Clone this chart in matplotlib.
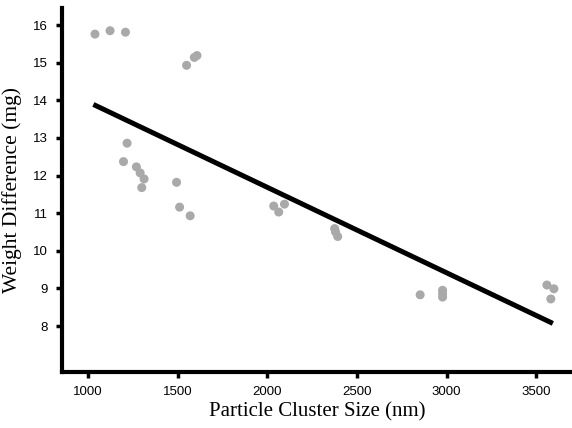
import matplotlib
matplotlib.use("Agg")
import matplotlib.pyplot as plt

# Data
cluster_size = [1039, 1123, 1209, 1550, 1593, 1608, 1218, 1198, 1270, 1291, 1313, 1300,
                1494, 1511, 1570, 2036, 2064, 2096, 2376, 2381, 2393, 2853, 2978, 2978,
                2978, 3560, 3599, 3582]
weight_diff = [15.76, 15.85, 15.81, 14.93, 15.14, 15.19, 12.86, 12.37, 12.23, 12.07, 11.91, 11.68,
               11.82, 11.16, 10.93, 11.19, 11.03, 11.24, 10.59, 10.50, 10.38, 8.83, 8.95, 8.86,
               8.77, 9.09, 8.99, 8.72]
fit_x = [1030, 3593]
fit_y = [13.89, 8.07]
x_ticks = [1000, 1500, 2000, 2500, 3000, 3500]
y_ticks = [8, 9, 10, 11, 12, 13, 14, 15, 16]

fig = plt.figure(figsize=(5.72, 4.28), dpi=100)
ax = fig.add_axes([0.1084, 0.131, 0.8916, 0.85])

ax.scatter(cluster_size, weight_diff, s=42, color="#a9a9a9", edgecolors="none", zorder=2)
ax.plot(fit_x, fit_y, color="black", linewidth=3.6, solid_capstyle="butt", zorder=3)

ax.set_xlim(855, 3700)
ax.set_ylim(6.78, 16.45)
ax.set_xticks(x_ticks)
ax.set_yticks(y_ticks)
ax.set_xticklabels([str(v) for v in x_ticks], family="Liberation Sans", fontsize=9.5)
ax.set_yticklabels([str(v) for v in y_ticks], family="Liberation Sans", fontsize=9.5)

for s in ["top", "right"]:
    ax.spines[s].set_visible(False)
for s in ["left", "bottom"]:
    ax.spines[s].set_linewidth(3)
ax.tick_params(axis="both", direction="out", length=4, width=2.5, pad=6)

ax.set_xlabel("Particle Cluster Size (nm)", family="Liberation Serif", fontsize=15, labelpad=3)
ax.set_ylabel("Weight Difference (mg)", family="Liberation Serif", fontsize=15.5, labelpad=8)

fig.savefig("out.png", dpi=100)
